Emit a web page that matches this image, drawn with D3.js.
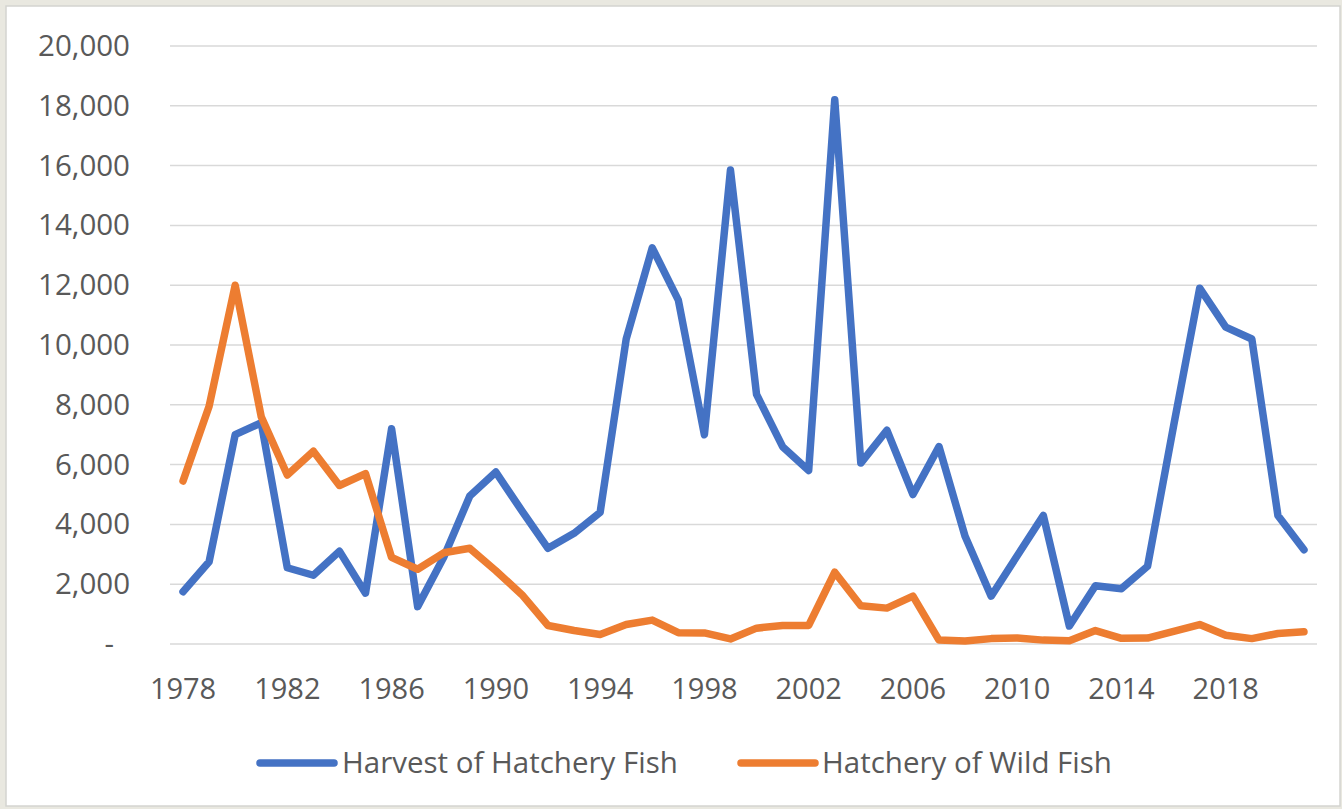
<!DOCTYPE html>
<html>
<head>
<meta charset="utf-8">
<script src="https://cdn.jsdelivr.net/npm/d3@7/dist/d3.min.js"></script>
<style>
  html, body { margin: 0; padding: 0; background: #e9e8e0; }
  svg { display: block; }
  text { font-family: "Open Sans", "Noto Sans", sans-serif; fill: #595959; }
</style>
</head>
<body>
<svg id="chart" width="1342" height="809"></svg>
<script>
const years = [1978,1979,1980,1981,1982,1983,1984,1985,1986,1987,1988,1989,1990,1991,1992,1993,1994,1995,1996,1997,1998,1999,2000,2001,2002,2003,2004,2005,2006,2007,2008,2009,2010,2011,2012,2013,2014,2015,2016,2017,2018,2019,2020,2021];

const harvestHatchery = [1750,2750,7000,7400,2550,2300,3100,1700,7200,1250,2900,4950,5750,4450,3200,3700,4400,10200,13250,11500,7000,15850,8350,6600,5800,18200,6050,7150,5000,6600,3600,1600,2950,4300,600,1950,1850,2600,7300,11900,10600,10200,4300,3150];

const hatcheryWild = [5450,7950,12000,7600,5650,6450,5300,5700,2900,2500,3050,3200,2450,1650,620,450,320,650,800,380,370,170,530,620,620,2400,1280,1200,1600,130,100,180,200,130,110,450,190,200,420,650,290,180,350,410];

const xTickLabels = [1978,1982,1986,1990,1994,1998,2002,2006,2010,2014,2018];
const yTickValues = [0,2000,4000,6000,8000,10000,12000,14000,16000,18000,20000];

const seriesNames = ["Harvest of Hatchery Fish", "Hatchery of Wild Fish"];
const seriesColors = ["#4472C4", "#ED7D31"];

const svg = d3.select("#chart");

// chart frame
svg.append("rect")
  .attr("x", 6).attr("y", 6).attr("width", 1334).attr("height", 800)
  .attr("fill", "#ffffff").attr("stroke", "#d4d4d0").attr("stroke-width", 1.5);

const plotLeft = 170, plotRight = 1317, plotTop = 46, plotBottom = 644;

const x = d3.scaleBand().domain(years).range([plotLeft, plotRight]).paddingInner(0).paddingOuter(0);
const cx = d => x(d) + x.bandwidth() / 2;
const y = d3.scaleLinear().domain([0, 20000]).range([plotBottom, plotTop]);

// gridlines
svg.append("g").selectAll("line").data(yTickValues).join("line")
  .attr("x1", plotLeft).attr("x2", plotRight)
  .attr("y1", d => y(d)).attr("y2", d => y(d))
  .attr("stroke", "#d9d9d9").attr("stroke-width", 1.5);

const fontFam = '"Open Sans", "Noto Sans", sans-serif';

// y axis
const yAxis = d3.axisLeft(y).tickValues(yTickValues).tickSize(0).tickPadding(40)
  .tickFormat(d => d === 0 ? "-" : d3.format(",")(d));
const gy = svg.append("g").attr("transform", `translate(${plotLeft},0)`).call(yAxis);
gy.select(".domain").remove();
gy.selectAll("text").attr("font-size", 29.5).attr("fill", "#595959")
  .style("font-family", fontFam)
  .attr("x", d => d === 0 ? -56 : -40);

// x axis
const xAxis = d3.axisBottom(x).tickValues(xTickLabels).tickSize(0).tickPadding(34);
const gx = svg.append("g").attr("transform", `translate(0,${plotBottom})`).call(xAxis);
gx.select(".domain").remove();
gx.selectAll("text").attr("font-size", 29).attr("fill", "#595959")
  .style("font-family", fontFam);

// lines
const line = d3.line().x((d, i) => cx(years[i])).y(d => y(d));
[harvestHatchery, hatcheryWild].forEach((vals, k) => {
  svg.append("path").datum(vals)
    .attr("d", line)
    .attr("fill", "none")
    .attr("stroke", seriesColors[k])
    .attr("stroke-width", 7.5)
    .attr("stroke-linejoin", "round")
    .attr("stroke-linecap", "round");
});

// legend
const legendItems = [
  { name: seriesNames[0], color: seriesColors[0], x1: 260, x2: 334, tx: 342 },
  { name: seriesNames[1], color: seriesColors[1], x1: 741, x2: 815, tx: 822 }
];
const legendY = 763;
const lg = svg.append("g");
legendItems.forEach(it => {
  lg.append("line").attr("x1", it.x1).attr("x2", it.x2).attr("y1", legendY).attr("y2", legendY)
    .attr("stroke", it.color).attr("stroke-width", 7.5).attr("stroke-linecap", "round");
  lg.append("text").attr("x", it.tx).attr("y", legendY).attr("dy", "0.35em")
    .attr("font-size", 29.5).style("font-family", fontFam).text(it.name);
});
</script>
</body>
</html>
